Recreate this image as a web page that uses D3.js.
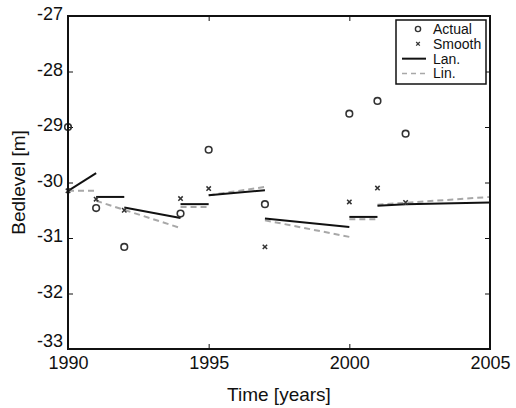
<!DOCTYPE html>
<html lang="en">
  <head>
    <meta charset="utf-8">
    <title>bedlevel</title>
    <script src="https://d3js.org/d3.v7.min.js"></script>
    <style>
      body { margin: 0; background: #fff; }
      svg text { font-family: "Liberation Sans", Arial, sans-serif; fill: #111; }
    </style>
  </head>
  <body>
    <svg id="chart" width="516" height="408"></svg>
    <script>
      // measured years and values
      const years = [1990, 1991, 1992, 1994, 1995, 1997, 2000, 2001, 2002]
      const actual = [-29.0, -30.46, -31.16, -30.56, -29.41, -30.39, -28.76, -28.53, -29.12]
      const smooth = [-30.15, -30.30, -30.50, -30.29, -30.11, -31.16, -30.35, -30.10, -30.36]

      // Lan. segments (solid)
      const lanX0 = [1990, 1991, 1992, 1994, 1995, 1997, 2000, 2001, 2002]
      const lanX1 = [1991, 1992, 1994, 1995, 1997, 2000, 2001, 2002, 2005]
      const lanY0 = [-30.15, -30.26, -30.45, -30.39, -30.23, -30.65, -30.62, -30.42, -30.39]
      const lanY1 = [-29.83, -30.26, -30.64, -30.39, -30.14, -30.80, -30.62, -30.39, -30.36]

      // Lin. segments (dashed)
      const linX0 = [1990, 1991, 1994, 1995, 1997, 2000, 2001]
      const linX1 = [1991, 1994, 1995, 1997, 2000, 2001, 2005]
      const linY0 = [-30.15, -30.33, -30.44, -30.23, -30.68, -30.66, -30.40]
      const linY1 = [-30.15, -30.82, -30.44, -30.08, -30.98, -30.66, -30.26]

      const xTicks = [1990, 1995, 2000, 2005]
      const yTicks = [-33, -32, -31, -30, -29, -28, -27]
      const legendNames = ['Actual', 'Smooth', 'Lan.', 'Lin.']

      const svg = d3.select('#chart')
      const mLeft = 68, mRight = 490, mTop = 16, mBottom = 349

      const x = d3.scaleLinear().domain([1990, 2005]).range([mLeft, mRight])
      const y = d3.scaleLinear().domain([-33, -27]).range([mBottom, mTop])

      // plain hyphen minus, like the original
      const fmt = d => String(d)

      // axes: ticks pointing inwards on all four sides
      svg.append('g')
        .attr('transform', `translate(0,${mBottom})`)
        .call(d3.axisBottom(x).tickValues(xTicks).tickSizeInner(-5).tickSizeOuter(0).tickPadding(7).tickFormat(fmt))
        .call(g => g.select('.domain').remove())
        .call(g => g.selectAll('text').attr('font-size', 18).attr('dy', '0.71em'))
      svg.append('g')
        .attr('transform', `translate(0,${mTop})`)
        .call(d3.axisTop(x).tickValues(xTicks).tickSizeInner(-5).tickSizeOuter(0).tickFormat(''))
        .call(g => g.select('.domain').remove())
      svg.append('g')
        .attr('transform', `translate(${mLeft},0)`)
        .call(d3.axisLeft(y).tickValues(yTicks).tickSizeInner(-5).tickSizeOuter(0).tickPadding(5).tickFormat(fmt))
        .call(g => g.select('.domain').remove())
        // bottom label sits a little higher, clear of the 1990 label
        .call(g => g.selectAll('text').attr('font-size', 18).attr('dy', d => d === -33 ? '-0.12em' : '0.22em'))
      svg.append('g')
        .attr('transform', `translate(${mRight},0)`)
        .call(d3.axisRight(y).tickValues(yTicks).tickSizeInner(-5).tickSizeOuter(0).tickFormat(''))
        .call(g => g.select('.domain').remove())

      svg.selectAll('.tick line').attr('stroke', '#111').attr('stroke-width', 1)
      svg.selectAll('.tick text').attr('fill', '#111').attr('font-family', '"Liberation Sans", Arial, sans-serif')

      svg.append('defs').append('clipPath').attr('id', 'clip')
        .append('rect').attr('x', mLeft).attr('y', mTop).attr('width', mRight - mLeft).attr('height', mBottom - mTop)

      const plot = svg.append('g').attr('clip-path', 'url(#clip)')

      // Lin. dashed
      plot.selectAll('line.lin')
        .data(linX0.map((d, i) => i))
        .join('line')
        .attr('class', 'lin')
        .attr('x1', i => x(linX0[i])).attr('y1', i => y(linY0[i]))
        .attr('x2', i => x(linX1[i])).attr('y2', i => y(linY1[i]))
        .attr('stroke', '#a8a8a8').attr('stroke-width', 2).attr('stroke-dasharray', '6,4')

      // Lan. solid
      plot.selectAll('line.lan')
        .data(lanX0.map((d, i) => i))
        .join('line')
        .attr('class', 'lan')
        .attr('x1', i => x(lanX0[i])).attr('y1', i => y(lanY0[i]))
        .attr('x2', i => x(lanX1[i])).attr('y2', i => y(lanY1[i]))
        .attr('stroke', '#111').attr('stroke-width', 2)

      // Actual circles
      svg.append('g').selectAll('circle')
        .data(years.map((d, i) => i))
        .join('circle')
        .attr('cx', i => x(years[i])).attr('cy', i => y(actual[i]))
        .attr('r', 3.3)
        .attr('fill', 'none').attr('stroke', '#333').attr('stroke-width', 1.6)

      // Smooth crosses
      const cross = (cx, cy, s) => `M${cx - s},${cy - s}L${cx + s},${cy + s}M${cx - s},${cy + s}L${cx + s},${cy - s}`
      svg.append('g').selectAll('path')
        .data(years.map((d, i) => i))
        .join('path')
        .attr('d', i => cross(x(years[i]), y(smooth[i]), 2.2))
        .attr('stroke', '#333').attr('stroke-width', 1.5)

      // frame
      svg.append('rect')
        .attr('x', mLeft).attr('y', mTop).attr('width', mRight - mLeft).attr('height', mBottom - mTop)
        .attr('fill', 'none').attr('stroke', '#111').attr('stroke-width', 2)

      // axis labels
      svg.append('text')
        .attr('x', (mLeft + mRight) / 2).attr('y', 401)
        .attr('text-anchor', 'middle').attr('font-size', 19)
        .text('Time [years]')
      svg.append('text')
        .attr('transform', `translate(25,${(mTop + mBottom) / 2}) rotate(-90)`)
        .attr('text-anchor', 'middle').attr('font-size', 19)
        .text('Bedlevel [m]')

      // legend
      const lg = svg.append('g')
      lg.append('rect')
        .attr('x', 396).attr('y', 20).attr('width', 90).attr('height', 64)
        .attr('fill', '#fff').attr('stroke', '#111').attr('stroke-width', 1.5)
      const rowY = d3.scalePoint().domain(legendNames).range([29, 73.5])
      legendNames.forEach(name => {
        const ry = rowY(name)
        lg.append('text').attr('x', 433).attr('y', ry).attr('dy', '0.35em')
          .attr('font-size', 14).text(name)
      })
      lg.append('circle').attr('cx', 418).attr('cy', rowY('Actual')).attr('r', 2.6)
        .attr('fill', 'none').attr('stroke', '#333').attr('stroke-width', 1.4)
      lg.append('path').attr('d', cross(418, rowY('Smooth'), 1.8))
        .attr('stroke', '#333').attr('stroke-width', 1.3)
      lg.append('line').attr('x1', 402).attr('x2', 426).attr('y1', rowY('Lan.')).attr('y2', rowY('Lan.'))
        .attr('stroke', '#111').attr('stroke-width', 2)
      lg.append('line').attr('x1', 402).attr('x2', 426).attr('y1', rowY('Lin.')).attr('y2', rowY('Lin.'))
        .attr('stroke', '#a8a8a8').attr('stroke-width', 1.5).attr('stroke-dasharray', '5,4')
    </script>
  </body>
</html>
